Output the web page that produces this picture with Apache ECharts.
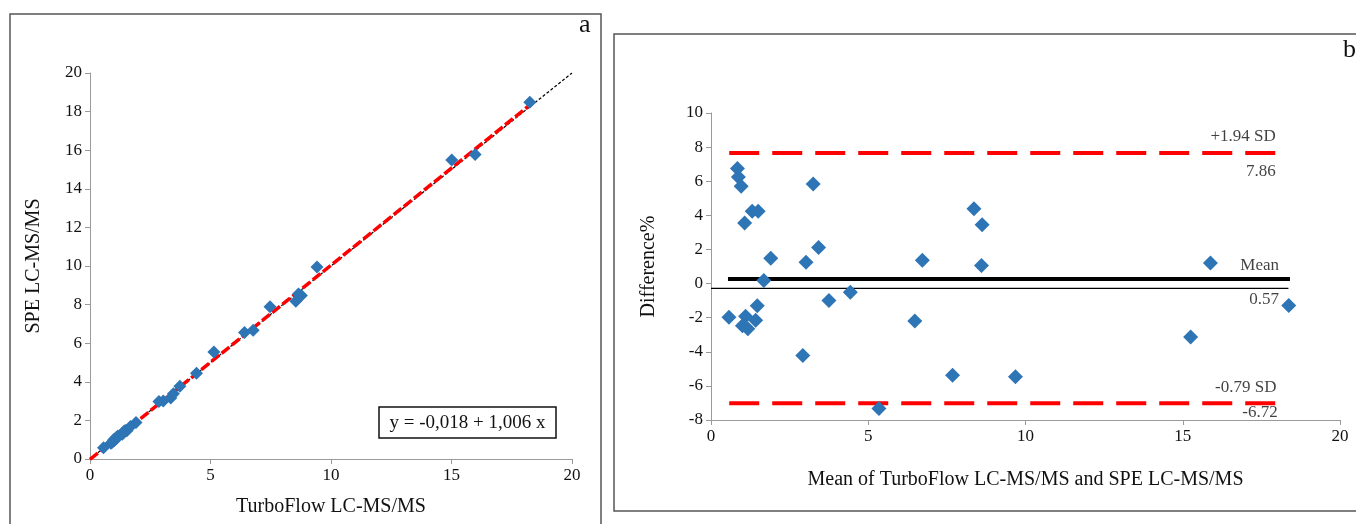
<!DOCTYPE html>
<html>
<head>
<meta charset="utf-8">
<script src="https://cdn.jsdelivr.net/npm/echarts@6/dist/echarts.min.js"></script>
<style>
html,body{margin:0;padding:0;background:#fff;}
#chart{width:1356px;height:524px;}
</style>
</head>
<body>
<div id="chart"></div>
<script>
// ---- Panel a: method comparison ----
const turboFlow = [0.56,0.87,0.90,0.99,1.09,1.34,1.53,1.91,1.68,1.46,1.09,0.99,1.16,1.41,3.35,3.04,3.46,2.86,3.73,4.42,5.14,6.41,6.77,7.47,8.54,8.77,8.65,9.42,15.01,15.98,18.25];
const speValues = [0.58,0.81,0.84,0.93,1.05,1.28,1.47,1.89,1.68,1.48,1.11,1.01,1.19,1.44,3.16,3.00,3.38,2.98,3.77,4.44,5.54,6.55,6.67,7.89,8.18,8.47,8.55,9.95,15.49,15.78,18.49];
const identityLine = [[0,0],[20,20]];
const regressionLine = [[0,-0.018],[18.3,18.39]];
const equationText = 'y = -0,018 + 1,006 x';
const axisTicksA = {xMin:0,xMax:20,xStep:5,yMin:0,yMax:20,yStep:2};

// ---- Panel b: Bland-Altman ----
const meanValues = [0.57,0.84,0.87,0.96,1.07,1.31,1.50,1.90,1.68,1.47,1.10,1.00,1.17,1.42,3.25,3.02,3.42,2.92,3.75,4.43,5.34,6.48,6.72,7.68,8.36,8.62,8.60,9.68,15.25,15.88,18.37];
const diffValues = [-1.97,6.75,6.25,5.70,3.55,4.24,4.24,1.48,0.18,-1.30,-1.92,-2.48,-2.65,-2.15,5.83,1.25,2.12,-4.22,-1.00,-0.51,-7.33,-2.20,1.36,-5.38,4.38,3.45,1.06,-5.47,-3.13,1.21,-1.28];
const upperLimitLine = [[0.58,7.65],[18.02,7.65]];
const lowerLimitLine = [[0.58,-7.02],[18.02,-7.02]];
const meanLine = [[0.54,0.27],[18.41,0.27]];
const baseLine = [[0,-0.28],[18.36,-0.28]];
const limitLabels = ['+1.94 SD','7.86','Mean','0.57','-0.79 SD','-6.72'];
const limitLabelPos = [[17.96,8.61],[17.96,6.56],[18.06,1.05],[18.06,-0.96],[17.98,-6.08],[18.02,-7.57]];
const axisTicksB = {xMin:0,xMax:20,xStep:5,yMin:-8,yMax:10,yStep:2};

const FONT = '"Liberation Serif","Times New Roman",serif';
const BLUE = '#2E75B6';
const AXIS_GREY = '#9a9a9a';

function zip(a,b){ return a.map((v,i)=>[v,b[i]]); }

const chart = echarts.init(document.getElementById('chart'), null, {renderer:'canvas'});

function axisCommon(){
  return {
    axisLine:{show:true,onZero:false,lineStyle:{color:AXIS_GREY,width:1}},
    axisTick:{show:true,length:5,lineStyle:{color:AXIS_GREY}},
    splitLine:{show:false},
    axisLabel:{color:'#111',fontFamily:FONT,fontSize:17},
    nameTextStyle:{color:'#111',fontFamily:FONT,fontSize:20}
  };
}

const option = {
  backgroundColor:'#fff',
  animation:false,
  grid:[
    {left:90,top:73,width:482,height:386},
    {left:711,top:113,width:629,height:307}
  ],
  xAxis:[
    Object.assign(axisCommon(),{gridIndex:0,type:'value',min:axisTicksA.xMin,max:axisTicksA.xMax,interval:axisTicksA.xStep,
      name:'TurboFlow LC-MS/MS',nameLocation:'middle',nameGap:38}),
    Object.assign(axisCommon(),{gridIndex:1,type:'value',min:axisTicksB.xMin,max:axisTicksB.xMax,interval:axisTicksB.xStep,
      name:'Mean of TurboFlow LC-MS/MS and SPE LC-MS/MS',nameLocation:'middle',nameGap:50})
  ],
  yAxis:[
    Object.assign(axisCommon(),{gridIndex:0,type:'value',min:axisTicksA.yMin,max:axisTicksA.yMax,interval:axisTicksA.yStep,
      name:'SPE LC-MS/MS',nameLocation:'middle',nameGap:46}),
    Object.assign(axisCommon(),{gridIndex:1,type:'value',min:axisTicksB.yMin,max:axisTicksB.yMax,interval:axisTicksB.yStep,
      name:'Difference%',nameLocation:'middle',nameGap:52})
  ],
  series:[
    {type:'line',xAxisIndex:0,yAxisIndex:0,data:identityLine,symbol:'none',silent:true,
      lineStyle:{color:'#000',width:1.2,type:[3,2]},z:2},
    {type:'line',xAxisIndex:0,yAxisIndex:0,data:regressionLine,symbol:'none',silent:true,
      lineStyle:{color:'#ff0000',width:3.5,type:[10,3]},z:3},
    {type:'scatter',xAxisIndex:0,yAxisIndex:0,data:zip(turboFlow,speValues),symbol:'diamond',symbolSize:13,
      itemStyle:{color:BLUE,opacity:1},z:5},

    {type:'line',xAxisIndex:1,yAxisIndex:1,data:upperLimitLine,symbol:'none',silent:true,
      lineStyle:{color:'#ff0000',width:4,type:[30,13]},z:2},
    {type:'line',xAxisIndex:1,yAxisIndex:1,data:lowerLimitLine,symbol:'none',silent:true,
      lineStyle:{color:'#ff0000',width:4,type:[30,13]},z:2},
    {type:'line',xAxisIndex:1,yAxisIndex:1,data:meanLine,symbol:'none',silent:true,
      lineStyle:{color:'#000',width:4},z:2},
    {type:'line',xAxisIndex:1,yAxisIndex:1,data:baseLine,symbol:'none',silent:true,
      lineStyle:{color:'#000',width:1.3},z:2},
    {type:'scatter',xAxisIndex:1,yAxisIndex:1,data:zip(meanValues,diffValues),symbol:'diamond',symbolSize:15,
      itemStyle:{color:BLUE,opacity:1},z:5},
    {type:'scatter',xAxisIndex:1,yAxisIndex:1,silent:true,symbolSize:0,z:6,
      data:limitLabels.map((t,i)=>({value:limitLabelPos[i],name:t})),
      label:{show:true,position:'left',distance:0,align:'right',verticalAlign:'middle',
        formatter:p=>p.name,color:'#111',fontFamily:FONT,fontSize:17}}
  ],
  graphic:[
    {type:'rect',shape:{x:10,y:14,width:591,height:530},style:{fill:'none',stroke:'#555',lineWidth:1.5},silent:true},
    {type:'rect',shape:{x:614,y:34,width:760,height:477},style:{fill:'none',stroke:'#555',lineWidth:1.5},silent:true},
    {type:'text',left:579,top:12,style:{text:'a',font:'26px '+FONT,fill:'#111'}},
    {type:'text',left:1343,top:37,style:{text:'b',font:'26px '+FONT,fill:'#111'}},
    {type:'rect',shape:{x:379,y:407,width:177,height:31},style:{fill:'#fff',stroke:'#111',lineWidth:1.5},z:10},
    {type:'text',x:467.5,y:423,z:11,style:{text:equationText,font:'19px '+FONT,fill:'#111',textAlign:'center',textVerticalAlign:'middle'}}
  ]
};
chart.setOption(option);
</script>
</body>
</html>
